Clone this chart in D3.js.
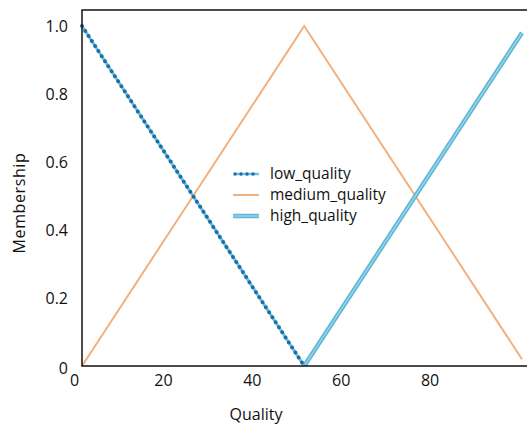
<!DOCTYPE html>
<html>
<head>
<meta charset="utf-8">
<script src="https://cdn.jsdelivr.net/npm/d3@7"></script>
<style>
  body { margin: 0; background: #fff; }
  text { font-family: "Open Sans", Lato, sans-serif; fill: #111; }
</style>
</head>
<body>
<div id="chart"></div>
<script>
"use strict";
(function () {
    // membership functions, breakpoints
    const lowX = [0, 50]
    const lowY = [1, 0]
    const mediumX = [0, 50, 99]
    const mediumY = [0, 1, 0.02]
    const highX = [50, 99]
    const highY = [0, 0.98]
    const xTicks = [0, 20, 40, 60, 80]
    const yTicks = [0, 0.2, 0.4, 0.6, 0.8, 1.0]
    const seriesNames = ["low_quality", "medium_quality", "high_quality"]

    const m = { left: 82, top: 10, right: 527, bottom: 366 }

    const svg = d3.select("#chart").append("svg")
        .attr("width", 527)
        .attr("height", 425)

    const x = d3.scaleLinear().domain([0, 99]).range([m.left, 522])
    const y = d3.scaleLinear().domain([0, 1]).range([m.bottom, 26])

    const line = d3.line().x(d => x(d[0])).y(d => y(d[1]))
    const pts = (xs, ys) => xs.map((v, i) => [v, ys[i]])

    // medium
    svg.append("path").datum(pts(mediumX, mediumY))
        .attr("d", line).attr("fill", "none")
        .attr("stroke", "#f4b07c").attr("stroke-width", 2)

    // high - double looking line
    svg.append("path").datum(pts(highX, highY))
        .attr("d", line).attr("fill", "none")
        .attr("stroke", "#5db6d6").attr("stroke-width", 4.5)
    svg.append("path").datum(pts(highX, highY))
        .attr("d", line).attr("fill", "none")
        .attr("stroke", "#a6d9ea").attr("stroke-width", 1.2)

    // low - dotted
    svg.append("path").datum(pts(lowX, lowY))
        .attr("d", line).attr("fill", "none")
        .attr("stroke", "#6fc0e2").attr("stroke-width", 3)
    svg.append("path").datum(pts(lowX, lowY))
        .attr("d", line).attr("fill", "none")
        .attr("stroke", "#1d6fa3").attr("stroke-width", 4)
        .attr("stroke-linecap", "round").attr("stroke-dasharray", "0,6")

    // frame
    svg.append("path")
        .attr("d", `M${m.right},${m.top}H${m.left}V${m.bottom}H${m.right}`)
        .attr("fill", "none").attr("stroke", "#111").attr("stroke-width", 1.5)

    // axes (labels only)
    svg.append("g")
        .attr("transform", `translate(-8,${m.bottom})`)
        .call(d3.axisBottom(x).tickValues(xTicks).tickSize(0).tickPadding(9).tickFormat(d3.format("d")))
    const yAxis = svg.append("g")
        .attr("transform", `translate(${m.left},0)`)
        .call(d3.axisLeft(y).tickValues(yTicks).tickSize(0).tickPadding(14)
            .tickFormat(d => d === 0 ? "0" : d3.format(".1f")(d)))
    svg.selectAll(".domain").remove()
    svg.selectAll(".tick text").style("font-size", "16px").attr("fill", "#111")
        .style("font-family", "'Open Sans', sans-serif")
    yAxis.selectAll(".tick").filter(d => d === 0).select("text").attr("dy", "0.45em")

    svg.append("text")
        .attr("x", 256).attr("y", 420)
        .attr("text-anchor", "middle").style("font-size", "16px")
        .text("Quality")
    svg.append("text")
        .attr("transform", "translate(25,203) rotate(-90)")
        .attr("text-anchor", "middle").style("font-size", "16px")
        .style("letter-spacing", "0.6px")
        .text("Membership")

    // legend
    const lg = svg.append("g").attr("transform", "translate(233,174)")
    seriesNames.forEach((name, i) => {
        const gy = i * 21
        if (i === 0) {
            lg.append("line").attr("x1", 2).attr("x2", 26).attr("y1", gy).attr("y2", gy)
                .attr("stroke", "#6fc0e2").attr("stroke-width", 2.5)
            lg.append("line").attr("x1", 2).attr("x2", 26).attr("y1", gy).attr("y2", gy)
                .attr("stroke", "#1d6fa3").attr("stroke-width", 3.5)
                .attr("stroke-linecap", "round").attr("stroke-dasharray", "0,6")
        } else if (i === 1) {
            lg.append("line").attr("x1", 0).attr("x2", 26).attr("y1", gy).attr("y2", gy)
                .attr("stroke", "#f4b07c").attr("stroke-width", 2)
        } else {
            lg.append("line").attr("x1", 0).attr("x2", 26).attr("y1", gy).attr("y2", gy)
                .attr("stroke", "#5db6d6").attr("stroke-width", 4.5)
            lg.append("line").attr("x1", 0).attr("x2", 26).attr("y1", gy).attr("y2", gy)
                .attr("stroke", "#a6d9ea").attr("stroke-width", 1.2)
        }
        lg.append("text").attr("x", 37).attr("y", gy).attr("dy", "0.33em")
            .style("font-size", "15.5px").text(name)
    })
})()
</script>
</body>
</html>
